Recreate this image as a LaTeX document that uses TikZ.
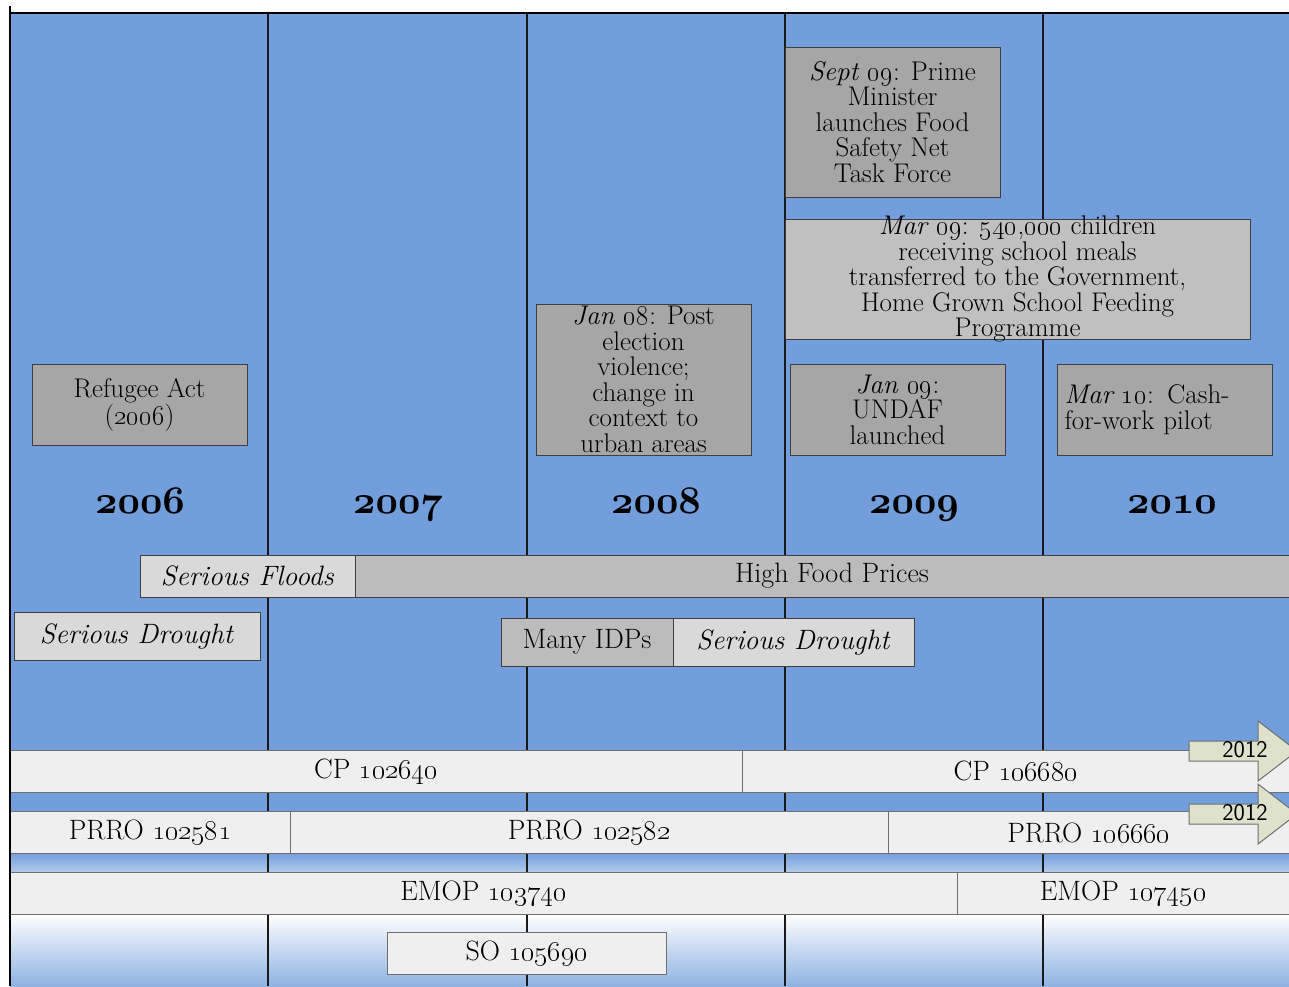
\documentclass[tikz,border=0pt]{standalone}
\usepackage{fix-cm}
\usepackage{tikz}
\usetikzlibrary{positioning}

\definecolor{bgblue}{HTML}{729FDB}
\definecolor{evtgrey}{HTML}{A6A6A6}
\definecolor{evtlight}{HTML}{C0C0C0}
\definecolor{evtline}{HTML}{3F3F3F}
\definecolor{barfill}{HTML}{EFEFEF}
\definecolor{barline}{HTML}{6F6F6F}
\definecolor{shocklight}{HTML}{D9D9D9}
\definecolor{shockmid}{HTML}{BCBCBC}
\definecolor{arrowfill}{HTML}{DFE2CB}

\newcommand{\os}[1]{\oldstylenums{#1}}
\newcommand{\boxfont}{\fontsize{27}{25.5}\selectfont}
\newcommand{\barfont}{\fontsize{28}{28}\selectfont}
\newcommand{\yearfont}{\usefont{OML}{cmm}{b}{it}\fontsize{39}{39}\selectfont}

\tikzset{
  evt/.style={draw=evtline, fill=evtgrey, line width=1pt, inner sep=0pt, outer sep=0pt, minimum width=215pt},
  evttxt/.style={inner sep=0pt, align=center, font=\boxfont},
  bar/.style={draw=barline, fill=barfill, line width=1pt, inner sep=0pt, outer sep=0pt, font=\barfont, minimum height=42pt},
  shock/.style={bar, draw=evtline, fill=shocklight},
  yearlbl/.style={font=\yearfont, text height=18pt, text depth=8pt, inner sep=0pt},
  divider/.style={line width=1.2pt, black!90},
  arrowbox/.style={draw=barline, fill=arrowfill, line width=1pt}
}

\begin{document}
\begin{tikzpicture}[x=1pt,y=-1pt]
\useasboundingbox (0,0) rectangle (1289,986);
% Background
\fill[bgblue] (10,13) rectangle (1289,853);
\shade[top color=bgblue, bottom color=bgblue!55!white] (10,853) rectangle (1289,872);
\fill[bgblue!55!white] (10,872) rectangle (1289,914);
\shade[top color=white, bottom color=bgblue!80!white] (10,914) rectangle (1289,986);
% Year dividers
\foreach \x in {268,527,785,1043}
  \draw[divider] (\x,13) -- (\x,986);
% Years
\foreach \x/\yr in {140/2006,398/2007,656/2008,914/2009,1172/2010}
  \node[yearlbl] (y\yr) at (\x,508) {\yr};

% Events
\node[evt, minimum height=81pt] (refugee) at (139.5,404.5) {};
\node[evttxt] (refugee-t) at (refugee) {Refugee Act\\(\os{2006})};
\node[evt, minimum height=151pt] (jan08) at (643.5,379.5) {};
\node[evttxt] (jan08-t) at (jan08) {\textit{Jan \os{08}}: Post\\election\\violence;\\change in\\context to\\urban areas};
\node[evt, minimum height=150pt] (sep09) at (892.5,122) {};
\node[evttxt] (sep09-t) at (sep09) {\textit{Sept \os{09}}: Prime\\Minister\\launches Food\\Safety Net\\Task Force};
\node[evt, fill=evtlight, minimum width=465pt, minimum height=120pt] (mar09) at (1017.5,279) {};
\node[evttxt] (mar09-t) at (mar09) {\textit{Mar \os{09}}: \os{540},\os{000} children\\receiving school meals\\transferred to the Government,\\Home Grown School Feeding\\Programme};
\node[evt, minimum height=91pt] (jan09) at (897.5,409.5) {};
\node[evttxt] (jan09-t) at (jan09) {\textit{Jan \os{09}}:\\UNDAF\\launched};
\node[evt, minimum height=91pt] (mar10) at (1164.5,409.5) {};
\node[evttxt, align=left, text width=200pt] (mar10-t) at (mar10) {\textit{Mar \os{10}}: Cash-\\for-work pilot};

% Shocks
\node[shock, minimum width=215pt] (floods) at (247.5,576) {\textit{Serious Floods}};
\node[shock, fill=shockmid, minimum width=934pt, right=0pt of floods] (prices) {\hspace*{20pt}High Food Prices};
\node[shock, minimum width=246pt, minimum height=48pt] (drought) at (137,636) {\textit{Serious Drought}};
\node[shock, fill=shockmid, minimum width=172pt, minimum height=48pt] (idps) at (587,642) {Many IDPs};
\node[shock, minimum width=241pt, minimum height=48pt, right=0pt of idps] (drought2) {\textit{Serious Drought}};

% Operations
\begin{scope}
\clip (0,0) rectangle (1289,986);
\node[bar, minimum width=732pt] (cp1) at (376,771) {CP \os{102640}};
\node[bar, minimum width=547pt, right=0pt of cp1] (cp2) {CP \os{106680}};
\node[bar, minimum width=280pt] (prro1) at (150,832.5) {PRRO \os{102581}};
\node[bar, minimum width=598pt, right=0pt of prro1] (prro2) {PRRO \os{102582}};
\node[bar, minimum width=401pt, right=0pt of prro2] (prro3) {PRRO \os{106660}};
\node[bar, minimum width=947pt] (emop1) at (483.5,893) {EMOP \os{103740}};
\node[bar, minimum width=332pt, right=0pt of emop1] (emop2) {EMOP \os{107450}};
\node[bar, minimum width=279pt] (so) at (526.5,953) {SO \os{105690}};
% Extension arrows
\foreach \yy/\nm in {751/cpext,814/prroext}{
  \draw[arrowbox] (1189,\yy-10) -- (1258,\yy-10) -- (1258,\yy-30) -- (1297,\yy)
    -- (1258,\yy+30) -- (1258,\yy+10) -- (1189,\yy+10) -- cycle;
  \node[font=\sffamily\fontsize{24}{24}\selectfont] (\nm) at (1245,\yy-1) {2012};
}
\end{scope}

% Frame
\draw[line width=1.5pt] (10,13) -- (1289,13);
\draw[line width=2.5pt] (10,6) -- (10,986);
\end{tikzpicture}
\end{document}
